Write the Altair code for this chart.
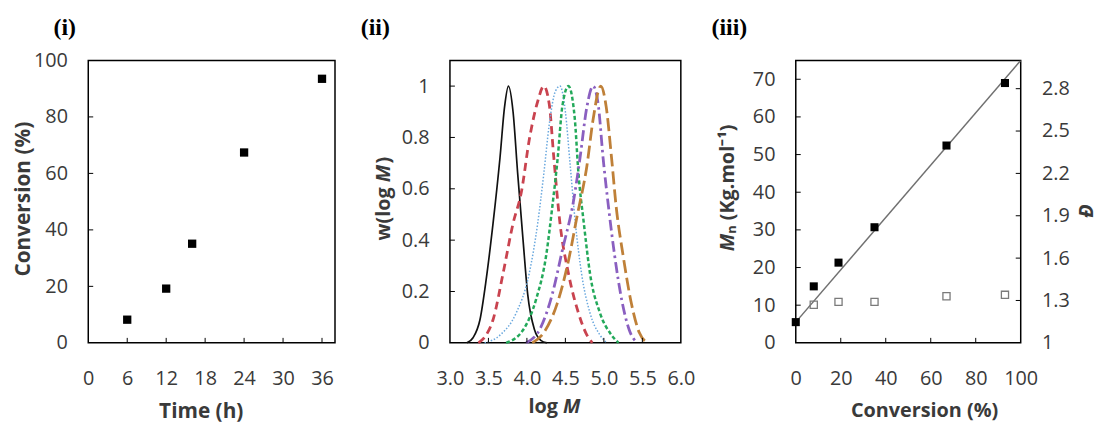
import altair as alt
import pandas as pd

FONT = "Open Sans"
TXT = "#3a3a3a"
SERIF = "Liberation Serif"

# ---------------- (i) conversion vs time ----------------
time_h = [6, 12, 16, 24, 36]
conv_i = [8.2, 19.2, 35.1, 67.4, 93.5]
i_xticks = [0, 6, 12, 18, 24, 30, 36]
i_yticks = [0, 20, 40, 60, 80, 100]

# ---------------- (ii) GPC traces ----------------
black_x = [3.22, 3.30, 3.39, 3.47, 3.56, 3.65, 3.71, 3.76, 3.82, 3.88, 3.95, 4.01, 4.10, 4.18, 4.26]
black_y = [0.0, 0.02, 0.09, 0.245, 0.465, 0.72, 0.92, 1.0, 0.90, 0.66, 0.40, 0.19, 0.05, 0.01, 0.0]
red_x = [3.37, 3.47, 3.56, 3.69, 3.82, 3.93, 4.03, 4.14, 4.22, 4.29, 4.35, 4.43, 4.54, 4.67, 4.78, 4.85]
red_y = [0.0, 0.03, 0.09, 0.27, 0.465, 0.59, 0.79, 0.94, 1.0, 0.93, 0.72, 0.465, 0.27, 0.116, 0.03, 0.0]
blue_x = [3.45, 3.65, 3.86, 4.03, 4.14, 4.22, 4.29, 4.37, 4.43, 4.50, 4.56, 4.63, 4.71, 4.82, 4.95, 5.04]
blue_y = [0.0, 0.03, 0.116, 0.27, 0.465, 0.66, 0.85, 0.98, 1.0, 0.90, 0.70, 0.465, 0.27, 0.116, 0.03, 0.0]
green_x = [3.73, 3.95, 4.12, 4.25, 4.33, 4.40, 4.46, 4.54, 4.62, 4.67, 4.74, 4.82, 4.95, 5.10, 5.19]
green_y = [0.0, 0.05, 0.17, 0.34, 0.53, 0.72, 0.92, 1.0, 0.88, 0.66, 0.465, 0.27, 0.116, 0.03, 0.0]
purple_x = [3.99, 4.18, 4.33, 4.46, 4.61, 4.69, 4.78, 4.86, 4.93, 4.99, 5.06, 5.14, 5.23, 5.33, 5.43]
purple_y = [0.0, 0.06, 0.19, 0.36, 0.56, 0.72, 0.92, 1.0, 0.92, 0.72, 0.53, 0.34, 0.17, 0.05, 0.0]
orange_x = [4.07, 4.22, 4.39, 4.54, 4.65, 4.78, 4.86, 4.96, 5.03, 5.10, 5.16, 5.25, 5.36, 5.46, 5.57]
orange_y = [0.0, 0.04, 0.15, 0.32, 0.49, 0.69, 0.87, 1.0, 0.92, 0.72, 0.53, 0.34, 0.15, 0.04, 0.0]
ii_xticks = [3.0, 3.5, 4.0, 4.5, 5.0, 5.5, 6.0]
ii_yticks = [0, 0.2, 0.4, 0.6, 0.8, 1]

# ---------------- (iii) Mn and dispersity vs conversion ----------------
conv_mn = [0, 8, 19, 35, 67, 93]
mn_kg = [5.5, 15.0, 21.3, 30.7, 52.4, 69.0]
conv_d = [8, 19, 35, 67, 93]
dispersity = [1.27, 1.29, 1.29, 1.33, 1.34]
fit_conv = [0, 100]
fit_mn = [5.5, 75]
iii_xticks = [0, 20, 40, 60, 80, 100]
iii_yticks = [0, 10, 20, 30, 40, 50, 60, 70]
iii_y2ticks = [1, 1.3, 1.6, 1.9, 2.2, 2.5, 2.8]

H = 285
W1, W2, W3 = 249, 233, 227
TICK = 5


def ax(values, fmt=None, orient=None, pad=21):
    kw = dict(values=values, title=None, ticks=False, domain=False,
              grid=False, labelFont=FONT, labelFontSize=20, labelColor=TXT,
              labelPadding=pad, labelFlush=False)
    if fmt:
        kw["format"] = fmt
    if orient:
        kw["orient"] = orient
    return alt.Axis(**kw)


def txt(text, x, y, angle=0, align="center", size=20, style="normal",
        weight="bold", font=FONT, color=TXT):
    return alt.Chart(pd.DataFrame({"t": [text]})).mark_text(
        text=text, angle=angle, align=align, baseline="middle", fontSize=size,
        fontStyle=style, fontWeight=weight, font=font, color=color
    ).encode(x=alt.value(x), y=alt.value(y))


def yticks(vals, scale, axis, w=None, right=False):
    d = pd.DataFrame({"v": vals})
    x0, x1 = (w - TICK, w) if right else (0, TICK)
    return alt.Chart(d).mark_rule(color="black", strokeWidth=1).encode(
        y=alt.Y("v:Q", scale=scale, axis=axis),
        x=alt.value(x0), x2=alt.value(x1))


def xticks(vals, scale, axis):
    d = pd.DataFrame({"v": vals})
    return alt.Chart(d).mark_rule(color="black", strokeWidth=1).encode(
        x=alt.X("v:Q", scale=scale, axis=axis),
        y=alt.value(H - TICK), y2=alt.value(H))


# ---------- panel (i) ----------
sx1 = alt.Scale(domain=[0, 38], nice=False, zero=False)
sy1 = alt.Scale(domain=[0, 100], nice=False)
ax1x = ax(i_xticks, "d", pad=26)
ax1y = ax(i_yticks, "d")
d1 = pd.DataFrame({"t": time_h, "c": conv_i})
pts1 = alt.Chart(d1).mark_square(size=70, color="black", opacity=1, clip=False).encode(
    x=alt.X("t:Q", scale=sx1, axis=ax1x),
    y=alt.Y("c:Q", scale=sy1, axis=ax1y))
p1 = alt.layer(
    pts1,
    yticks(i_yticks[1:-1], sy1, ax1y),
    xticks(i_xticks[1:], sx1, ax1x),
    txt("Conversion (%)", -65, 140, angle=270, size=21),
    txt("Time (h)", 114, H + 70, size=21),
    txt("(i)", -35, -33, align="left", size=24, font=SERIF, color="black"),
).properties(width=W1, height=H)

# ---------- panel (ii) ----------
sx2 = alt.Scale(domain=[3.0, 6.0], nice=False, zero=False)
sy2 = alt.Scale(domain=[0, 1.1], nice=False)
ax2x = ax(ii_xticks, ".1f", pad=26)
ax2y = ax(ii_yticks, "~g")
curves = [
    (black_x, black_y, "#111111", 1.7, None),
    (red_x, red_y, "#C9434F", 2.8, [8, 5]),
    (blue_x, blue_y, "#6AA8DE", 1.5, [1.5, 1.8]),
    (green_x, green_y, "#23A95A", 2.5, [4, 2.5]),
    (purple_x, purple_y, "#8A5FC0", 2.8, [11, 4, 2.5, 4]),
    (orange_x, orange_y, "#BF8038", 2.8, [13, 5]),
]
layers2 = []
for xs, ys, col, sw, dash in curves:
    d = pd.DataFrame({"m": xs, "w": ys})
    kw = dict(color=col, strokeWidth=sw, interpolate="monotone")
    if dash:
        kw["strokeDash"] = dash
    layers2.append(alt.Chart(d).mark_line(**kw).encode(
        x=alt.X("m:Q", scale=sx2, axis=ax2x),
        y=alt.Y("w:Q", scale=sy2, axis=ax2y)))
p2 = alt.layer(
    *layers2,
    yticks(ii_yticks[1:], sy2, ax2y),
    xticks(ii_xticks[1:-1], sx2, ax2x),
    txt("w(log", -66, 128, angle=270, align="right"),
    txt("M", -66, 123, angle=270, align="left", style="italic"),
    txt(")", -66, 104, angle=270, align="left"),
    txt("log", 109, H + 65, align="right"),
    txt("M", 114, H + 65, align="left", style="italic"),
    txt("(ii)", -90, -33, align="left", size=24, font=SERIF, color="black"),
).properties(width=W2, height=H)

# ---------- panel (iii) ----------
sx3 = alt.Scale(domain=[0, 100], nice=False)
sy3 = alt.Scale(domain=[0, 75], nice=False)
sy3r = alt.Scale(domain=[1, 3], nice=False, zero=False)
ax3x = ax(iii_xticks, "d", pad=26)
ax3y = ax(iii_yticks, "d")
ax3r = ax(iii_y2ticks, "~g", orient="right")
dfit = pd.DataFrame({"c": fit_conv, "mn": fit_mn})
dmn = pd.DataFrame({"c": conv_mn, "mn": mn_kg})
dd = pd.DataFrame({"c": conv_d, "d": dispersity})
fit = alt.Chart(dfit).mark_line(color="#707070", strokeWidth=1.5, clip=True).encode(
    x=alt.X("c:Q", scale=sx3, axis=ax3x),
    y=alt.Y("mn:Q", scale=sy3, axis=ax3y))
mnpts = alt.Chart(dmn).mark_square(size=66, color="black", opacity=1, clip=False).encode(
    x=alt.X("c:Q", scale=sx3, axis=ax3x),
    y=alt.Y("mn:Q", scale=sy3, axis=ax3y))
left3 = alt.layer(
    fit, mnpts,
    yticks(iii_yticks[1:], sy3, ax3y),
    xticks(iii_xticks[1:-1], sx3, ax3x),
    txt("Conversion (%)", 130, H + 69),
    txt("M", -68, 175, angle=270, align="right", style="italic"),
    txt("\u2099 (Kg.mol\u207b\u00b9)", -68, 175, angle=270, align="left"),
    txt("\u0110", W3 + 67, 152, angle=270, style="italic"),
    txt("(iii)", -85, -33, align="left", size=24, font=SERIF, color="black"),
)
dpts = alt.Chart(dd).mark_point(shape="square", filled=False, size=52, color="#7a7a7a",
                                strokeWidth=1.3, opacity=1).encode(
    x=alt.X("c:Q", scale=sx3, axis=ax3x),
    y=alt.Y("d:Q", scale=sy3r, axis=ax3r))
right3 = alt.layer(dpts, yticks(iii_y2ticks[1:], sy3r, ax3r, w=W3, right=True))
p3 = alt.layer(left3, right3).resolve_scale(y="independent").properties(width=W3, height=H)

chart = alt.hconcat(p1, p2, p3, spacing=116, bounds="flush").properties(
    padding={"left": 4, "top": 5, "right": 0, "bottom": 0}
).configure_view(stroke="black", strokeWidth=1.5)

chart.save("out.html", embed_options={"renderer": "svg", "actions": False})
